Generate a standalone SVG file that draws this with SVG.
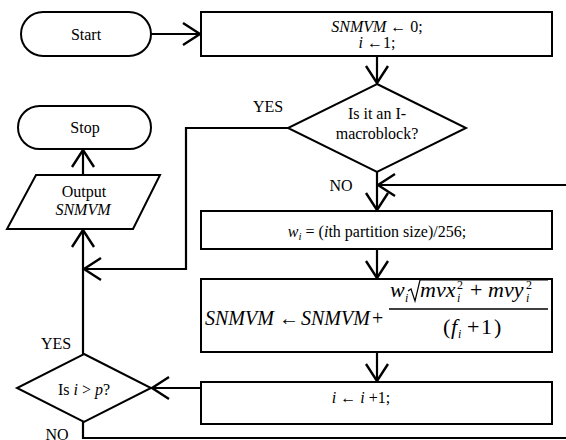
<svg xmlns="http://www.w3.org/2000/svg" width="566" height="440" viewBox="0 0 566 440" font-family="'Liberation Serif', 'Times New Roman', serif">
<defs>
<style>
text{font-family:'Liberation Serif','Times New Roman',serif;fill:#000}
.t{font-size:16px;text-anchor:middle}
.f{font-size:20px}
.n{font-size:22px}
.sm{font-size:12px}
.i{font-style:italic}
.s{fill:#fff;stroke:#000;stroke-width:2}
.c{fill:none;stroke:#000;stroke-width:2.2}
</style>
<marker id="a" markerUnits="userSpaceOnUse" viewBox="-22 -14 26 28" refX="0" refY="0" markerWidth="26" markerHeight="28" orient="auto" overflow="visible">
<path d="M-18,-11 L-1,0 L-18,11" fill="none" stroke="#000" stroke-width="2.4"/>
</marker>
</defs>
<rect width="566" height="440" fill="#fff"/>

<g id="connectors">
<path class="c" d="M151,34 H201" marker-end="url(#a)"/>
<path class="c" d="M377,56 V84" marker-end="url(#a)"/>
<path class="c" d="M288,128 H186 V269 H83" marker-end="url(#a)"/>
<path class="c" d="M377,172 V211" marker-end="url(#a)"/>
<path class="c" d="M566,185 H377" marker-end="url(#a)"/>
<path class="c" d="M377,249 V279" marker-end="url(#a)"/>
<path class="c" d="M377,352 V382" marker-end="url(#a)"/>
<path class="c" d="M201,388 H151" marker-end="url(#a)"/>
<path class="c" d="M83,354 V229" marker-end="url(#a)"/>
<path class="c" d="M83,175 V149" marker-end="url(#a)"/>
<path class="c" d="M83,422 V438 H566"/>
<text class="t" x="268" y="112">YES</text>
<text class="t" x="341" y="191">NO</text>
<text class="t" x="56" y="349">YES</text>
<text class="t" x="57" y="440">NO</text>
</g>

<g id="start">
<rect class="s" x="21" y="12" width="130" height="44" rx="22"/>
<text class="t" x="86" y="40">Start</text>
</g>

<g id="init">
<rect class="s" x="201" y="12" width="351" height="44"/>
<text class="t" x="377" y="32"><tspan class="i">SNMVM</tspan> ← 0;</text>
<text class="t" x="377" y="48"><tspan class="i">i</tspan> ←1;</text>
</g>

<g id="decision-i">
<polygon class="s" points="377,84 466,128 377,172 288,128"/>
<text class="t" x="377" y="119">Is it an I-</text>
<text class="t" x="377" y="139">macroblock?</text>
</g>

<g id="stop">
<rect class="s" x="18" y="106" width="133" height="43" rx="21.5"/>
<text class="t" x="85" y="133">Stop</text>
</g>

<g id="output">
<polygon class="s" points="36,175 160,175 133,229 7,229"/>
<text class="t" x="84" y="197">Output</text>
<text class="t i" x="83" y="215">SNMVM</text>
</g>

<g id="weight">
<rect class="s" x="201" y="211" width="351" height="38"/>
<text class="t" x="377" y="237"><tspan class="i">w</tspan><tspan class="i" font-size="11" dy="3">i</tspan><tspan dy="-3"> = (</tspan><tspan class="i">i</tspan>th partition size)/256;</text>
</g>

<g id="update">
<rect class="s" x="201" y="279" width="351" height="73"/>
<text class="f i" x="205" y="325">SNMVM</text>
<text class="f" x="279" y="325">←</text>
<text class="f i" x="301" y="325">SNMVM</text>
<text class="f" x="372" y="325">+</text>
<text class="n i" x="390" y="297">w</text>
<text class="sm i" x="405" y="302">i</text>
<path d="M408,291 L411,289 L415,301 L420,280 H548" fill="none" stroke="#000" stroke-width="1.2"/>
<text class="n i" x="420" y="297">mvx</text>
<text class="sm" x="457" y="289">2</text>
<text class="sm i" x="457" y="302">i</text>
<text class="n" x="470" y="297">+</text>
<text class="n i" x="488" y="297">mvy</text>
<text class="sm" x="526" y="289">2</text>
<text class="sm i" x="526" y="302">i</text>
<line x1="389" y1="309" x2="548" y2="309" stroke="#000" stroke-width="1.3"/>
<text class="n" x="443" y="334">(</text>
<text class="n i" x="451" y="334">f</text>
<text class="sm i" x="458" y="338">i</text>
<text class="n" x="467" y="334">+</text>
<text class="n" x="481" y="334">1</text>
<text class="n" x="494" y="334">)</text>
</g>

<g id="increment">
<rect class="s" x="201" y="382" width="351" height="42"/>
<text class="t" x="361" y="403"><tspan class="i">i</tspan> ← <tspan class="i">i</tspan> +1;</text>
</g>

<g id="decision-p">
<polygon class="s" points="84,354 151,388 84,422 17,388"/>
<text class="t" x="84" y="395">Is <tspan class="i">i</tspan> &gt; <tspan class="i">p</tspan>?</text>
</g>
</svg>
